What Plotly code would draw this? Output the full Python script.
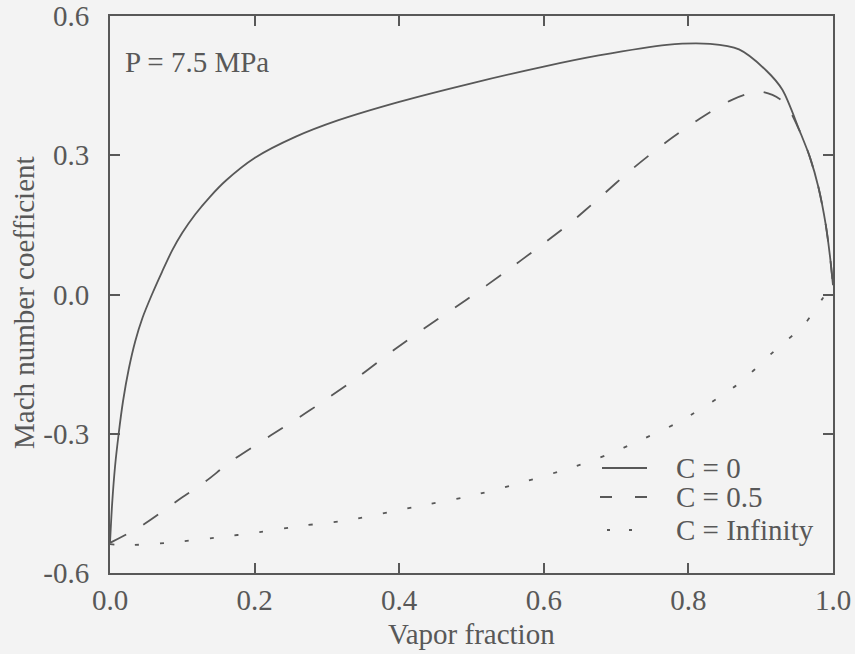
import plotly.graph_objects as go

# Vapor fraction (x) and Mach number coefficient (y)
x_c0 = [0.0, 0.003, 0.007, 0.012, 0.018, 0.026, 0.035, 0.045, 0.058, 0.072, 0.086, 0.1,
        0.118, 0.138, 0.16, 0.2, 0.257, 0.315, 0.4, 0.5, 0.6, 0.676, 0.77, 0.83, 0.87,
        0.908, 0.93, 0.954, 0.968, 0.98, 0.99, 0.996, 1.0]
y_c0 = [-0.535, -0.45, -0.37, -0.3, -0.23, -0.16, -0.1, -0.05, 0.0, 0.049, 0.095, 0.133,
        0.173, 0.21, 0.245, 0.294, 0.34, 0.375, 0.415, 0.455, 0.491, 0.515, 0.538, 0.54,
        0.528, 0.482, 0.441, 0.352, 0.296, 0.23, 0.15, 0.08, 0.02]

x_c05 = [0.0, 0.044, 0.1, 0.132, 0.167, 0.222, 0.278, 0.343, 0.394, 0.444, 0.494, 0.547,
         0.593, 0.635, 0.676, 0.722, 0.769, 0.815, 0.861, 0.899, 0.931, 0.954, 0.968,
         0.98, 0.99, 0.996, 1.0]
y_c05 = [-0.535, -0.498, -0.437, -0.403, -0.36, -0.304, -0.248, -0.178, -0.118, -0.063,
         -0.01, 0.049, 0.102, 0.152, 0.207, 0.27, 0.328, 0.378, 0.42, 0.437, 0.416, 0.352,
         0.296, 0.23, 0.15, 0.08, 0.02]

x_cinf = [0.0, 0.026, 0.086, 0.145, 0.207, 0.267, 0.326, 0.392, 0.426, 0.496, 0.565,
          0.644, 0.688, 0.732, 0.785, 0.867, 0.92, 0.96, 0.985, 1.0]
y_cinf = [-0.538, -0.54, -0.534, -0.524, -0.512, -0.498, -0.487, -0.467, -0.456, -0.435,
          -0.407, -0.37, -0.345, -0.315, -0.276, -0.195, -0.12, -0.065, -0.01, 0.02]

series_names = ["C = 0", "C = 0.5", "C = Infinity"]
x_ticks = [0.0, 0.2, 0.4, 0.6, 0.8, 1.0]
x_tick_labels = ["0.0", "0.2", "0.4", "0.6", "0.8", "1.0"]
y_ticks = [-0.6, -0.3, 0.0, 0.3, 0.6]
y_tick_labels = ["-0.6", "-0.3", "0.0", "0.3", "0.6"]

FONT = "Liberation Serif, Times New Roman, serif"
INK = "#585858"
BG = "#f3f3f3"
FS = 29

# plot-area geometry in pixels (used only to place legend/labels)
W, H = 855, 654
L, R, T, B = 110, 22, 16, 81
PW, PH = W - L - R, H - T - B


def px(xp):
    return (xp - L) / PW


def py(yp):
    return (H - B - yp) / PH


dashes = ["solid", "18px,20px", "4px,21px"]
legend_dashes = ["solid", "12px,23px", "3px,19px"]

fig = go.Figure()
for xs, ys, name, dash in zip([x_c0, x_c05, x_cinf], [y_c0, y_c05, y_cinf],
                              series_names, dashes):
    fig.add_trace(go.Scatter(x=xs, y=ys, mode="lines", name=name, showlegend=False,
                             line=dict(color=INK, width=1.8, dash=dash,
                                       shape="spline", smoothing=0.8)))

axis_common = dict(showgrid=False, zeroline=False, showline=True, linecolor=INK,
                   linewidth=2, mirror="ticks", ticks="inside", ticklen=10,
                   tickwidth=1.5, tickcolor=INK, automargin=False,
                   tickfont=dict(family=FONT, size=FS, color=INK))

fig.update_xaxes(range=[0, 1], tickvals=x_ticks, ticktext=x_tick_labels,
                 ticklabelstandoff=0, **axis_common)
fig.update_yaxes(range=[-0.6, 0.6], tickvals=y_ticks, ticktext=y_tick_labels,
                 ticklabelstandoff=13, **axis_common)

# axis titles
fig.add_annotation(x=0.5, y=py(634), xref="paper", yref="paper", text="Vapor fraction",
                   showarrow=False, xanchor="center", yanchor="middle",
                   font=dict(family=FONT, size=FS, color=INK))
fig.add_annotation(x=px(24), y=py(303), xref="paper", yref="paper",
                   text="Mach number coefficient", textangle=-90,
                   showarrow=False, xanchor="center", yanchor="middle",
                   font=dict(family=FONT, size=FS, color=INK))

fig.add_annotation(x=px(123), y=py(62), xref="paper", yref="paper", text="P = 7.5 MPa",
                   showarrow=False, xanchor="left", yanchor="middle",
                   font=dict(family=FONT, size=FS, color=INK))

# legend (sample line + label)
legend_rows = [468, 497, 530]
sample_spans = [(602, 647), (600, 647), (607, 632)]
for name, dash, row, (x0, x1) in zip(series_names, legend_dashes, legend_rows, sample_spans):
    fig.add_shape(type="line", xref="paper", yref="paper",
                  x0=px(x0), x1=px(x1), y0=py(row), y1=py(row),
                  line=dict(color=INK, width=1.8, dash=dash))
    fig.add_annotation(x=px(674), y=py(row), xref="paper", yref="paper", text=name,
                       showarrow=False, xanchor="left", yanchor="middle",
                       font=dict(family=FONT, size=FS, color=INK))

fig.update_layout(
    width=W, height=H,
    margin=dict(l=L, r=R, t=T, b=B),
    paper_bgcolor=BG, plot_bgcolor=BG,
    showlegend=False,
)

fig.write_html(
    "out.html",
    config={"displayModeBar": False},
    post_script="document.body.style.margin='0px';"
                "document.body.style.backgroundColor='" + BG + "';"
                "document.body.style.overflow='hidden';",
)
